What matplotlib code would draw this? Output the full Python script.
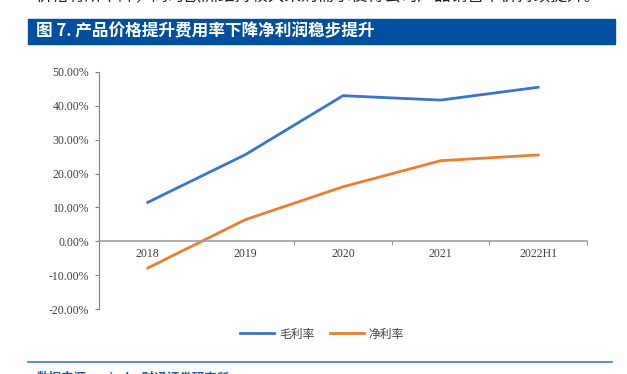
import matplotlib.pyplot as plt
from matplotlib.patches import Rectangle
from matplotlib.lines import Line2D
from matplotlib.ticker import FixedLocator

plt.rcParams['font.family'] = ['Noto Sans CJK SC', 'DejaVu Sans']

years = ['2018', '2019', '2020', '2021', '2022H1']
gross_margin = [11.5, 25.6, 43.0, 41.7, 45.5]
net_margin = [-7.9, 6.4, 16.1, 23.8, 25.5]

fig = plt.figure(figsize=(6.27, 3.74), dpi=100)

# header / title banner
fig.text(35 / 627, 1.008, '价格有所下降，同时欧洲维持较大采购需求使得公司产品销售单价持续提升。',
         fontsize=12, color='#222222', va='center', ha='left')
fig.patches.append(Rectangle((28 / 627, 1 - 44 / 374), (615 - 28) / 627, 25 / 374,
                             transform=fig.transFigure, color='#0150A0', zorder=0))
fig.text(36 / 627, 1 - 31.5 / 374, '图 7. 产品价格提升费用率下降净利润稳步提升',
         fontsize=12, color='white', weight='bold', va='center', ha='left')

ax = fig.add_axes([99 / 627, 1 - 309 / 374, (587 - 99) / 627, (309 - 72) / 374])
ax.spines['bottom'].set_position(('data', 0))
ax.spines['bottom'].set_color('#A0A0A0')
ax.spines['bottom'].set_linewidth(1.2)
ax.spines['left'].set_color('#808080')
ax.spines['top'].set_visible(False)
ax.spines['right'].set_visible(False)

x = list(range(len(years)))
ax.plot(x, gross_margin, color='#3C75C6', lw=2, label='毛利率')
ax.plot(x, net_margin, color='#ED7D31', lw=2, label='净利率')

ax.set_xlim(-0.5, len(years) - 0.5)
ax.set_ylim(-20, 50)
ax.set_yticks(range(-20, 51, 10))
ax.set_yticklabels(['%.2f%%' % v for v in range(-20, 51, 10)])
ax.set_xticks(x)
ax.set_xticklabels(years)
ax.xaxis.set_minor_locator(FixedLocator([i + 0.5 for i in x]))
ax.tick_params(axis='x', which='major', length=0, pad=5)
ax.tick_params(axis='x', which='minor', length=3, color='#808080', direction='out')
ax.tick_params(axis='y', length=3, color='#808080', pad=4)
ax.tick_params(axis='both', which='both', labelfontfamily='Liberation Serif',
               labelsize=8.5, labelcolor='#404040')

leg = fig.legend(loc='center', bbox_to_anchor=(322 / 627, 1 - 334 / 374), ncol=2,
                 frameon=False, fontsize=8.5, handlelength=2.9, columnspacing=1.3,
                 handletextpad=0.4)
for t in leg.get_texts():
    t.set_color('#404040')

# footer
fig.lines.append(Line2D([28 / 627, 612 / 627], [1 - 362 / 374] * 2,
                        transform=fig.transFigure, color='#3C7CC8', lw=1.2))
fig.text(37 / 627, 1 - 378 / 374, '数据来源：wind，财通证券研究所', fontsize=9,
         color='#1F5FA8', weight='bold', va='center', ha='left')

fig.savefig('out.png', dpi=100)
